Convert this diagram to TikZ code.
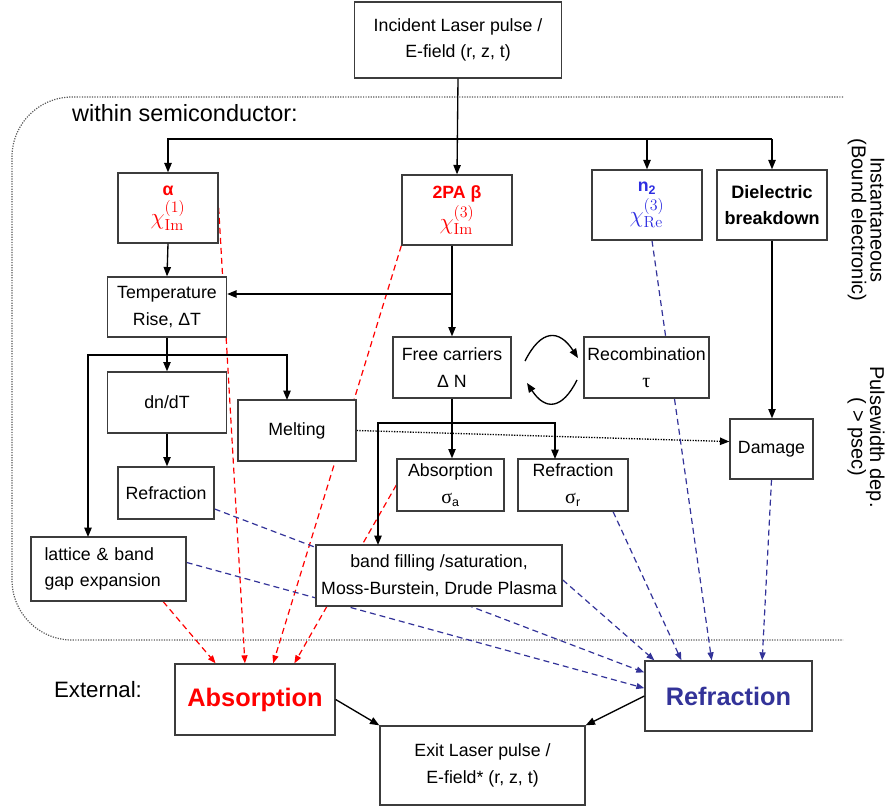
\documentclass[tikz,border=0pt]{standalone}
\usepackage[no-math]{fontspec}
\setmainfont{Liberation Sans}
\newfontfamily\greekserif{Liberation Serif}
\usetikzlibrary{arrows.meta,calc}
\pgfdeclarelayer{bg}
\pgfsetlayers{bg,main}

\definecolor{navy}{RGB}{51,51,153}
\definecolor{brightblue}{RGB}{45,45,225}
\definecolor{boxgray}{RGB}{60,60,60}
\definecolor{regiongray}{RGB}{90,90,90}

\tikzset{every picture/.style={line width=0.75pt}}
\tikzset{
  sz/.style 2 args={minimum width=#1*0.75pt, minimum height=#2*0.75pt},
  blk/.style={draw=boxgray, fill=white, line width=1pt, inner sep=0pt, align=center, font=\fontsize{13.3}{20}\selectfont},
  arr/.style={line width=1pt, -{Triangle[length=7pt,width=5.5pt]}},
  redarr/.style={draw=red, line width=0.9pt, dash pattern=on 4.5pt off 3pt, -{Triangle[length=6pt,width=4.5pt]}},
  bluearr/.style={draw=navy, line width=0.9pt, dash pattern=on 4.5pt off 3pt, -{Triangle[length=6pt,width=4.5pt]}},
}

\begin{document}
\begin{tikzpicture}[x=0.75pt,y=0.75pt,yscale=-1]
\useasboundingbox (0,0) rectangle (891,809);

% Boxes
\node[blk, sz={207}{76}] (inc) at (458,40) {Incident Laser pulse /\\E-field (r, z, t)};
\node[blk, sz={100}{70}, text=red] (alpha) at (168,208) {\textbf{α}\\[2pt]{\fontsize{18}{18}\selectfont$\chi^{(1)}_{\mathrm{Im}}$}};
\node[blk, sz={110}{70}, text=red] (tpa) at (457,210) {\textbf{2PA β}\\[2pt]{\fontsize{18}{18}\selectfont$\chi^{(3)}_{\mathrm{Im}}$}};
\node[blk, sz={110}{70}, text=brightblue] (ntwo) at (647,205) {\textbf{n\textsubscript{2}}\\[2pt]{\fontsize{18}{18}\selectfont$\chi^{(3)}_{\mathrm{Re}}$}};
\node[blk, sz={110}{70}, font=\fontsize{13.5}{20}\selectfont\bfseries] (diel) at (772,205) {Dielectric\\breakdown};
\node[blk, sz={119}{60}] (temp) at (167,307) {Temperature\\Rise, ΔT};
\node[blk, sz={118}{61}] (free) at (452,367.5) {Free carriers\\Δ N};
\node[blk, sz={125}{61}] (recomb) at (646.5,367.5) {Recombination\\{\greekserif\fontsize{15}{20}\selectfont τ}};
\node[blk, sz={119}{61}] (dndt) at (167,402.5) {dn/dT};
\node[blk, sz={118}{61}] (melt) at (297,430.5) {Melting};
\node[blk, sz={96}{52}] (reft) at (166,493) {Refraction};
\node[blk, sz={155}{64}, align=left, text width=128*0.75pt] (lat) at (108.5,569) {lattice \& band\\gap expansion};
\node[blk, sz={107}{52}] (siga) at (450.5,485) {Absorption\\{\greekserif\fontsize{15}{20}\selectfont σ}\textsubscript{a}};
\node[blk, sz={110}{52}] (sigr) at (573,485) {Refraction\\{\greekserif\fontsize{15}{20}\selectfont σ}\textsubscript{r}};
\node[blk, sz={83}{60}] (damage) at (771.5,449) {Damage};
\node[blk, sz={246}{61}] (band) at (439,575.5) {band filling /saturation,\\Moss-Burstein, Drude Plasma};
\node[blk, sz={160}{71}, text=red, font=\fontsize{19}{22}\selectfont\bfseries] (absx) at (255,699.5) {Absorption};
\node[blk, sz={167}{70}, text=navy, font=\fontsize{19}{22}\selectfont\bfseries] (refx) at (728.5,696) {Refraction};
\node[blk, sz={205}{79}] (exit) at (482.5,765.5) {Exit Laser pulse /\\E-field* (r, z, t)};

% Text Node
\node[font=\fontsize{17.6}{20}\selectfont] (within) at (185,113) {within semiconductor:};
\node[font=\fontsize{16.7}{20}\selectfont] (external) at (98,690) {External:};
\node[rotate=-90, align=center, font=\fontsize{15}{14}\selectfont] (inst) at (866,220) {Instantaneous\\(Bound electronic)};
\node[rotate=-90, align=center, font=\fontsize{15}{14}\selectfont] (pulse) at (866,437) {Pulsewidth dep.\\( > psec)};

% Branch points
\coordinate (bus) at (0,139);
\coordinate (tbranch) at (0,294);
\coordinate (tbus) at (0,355);
\coordinate (fbus) at (0,423);
\coordinate (latin) at (88,537);
\coordinate (meltin) at (287,400);
\coordinate (sigrin) at (555,459);
\coordinate (bandin) at (378,545);
\coordinate (c1) at (525,361);
\coordinate (c2) at (578,358);
\coordinate (c3) at (577,380);
\coordinate (c4) at (527,383);

% Solid connectors
\draw[arr] (inc.south) -- (tpa.north);
\draw[arr] (diel.north |- bus) -| (alpha.north);
\draw[arr] (ntwo.north |- bus) -- (ntwo.north);
\draw[arr] (diel.north |- bus) -- (diel.north);
\draw[arr] (alpha.south) -- (temp.north);
\draw[arr] (tpa.south -| free.north) -- (free.north);
\draw[arr] (free.north |- tbranch) -- (temp.east |- tbranch);
\draw[line width=1pt] (temp.south) -- (temp.south |- tbus);
\draw[arr] (temp.south |- tbus) -- (dndt.north);
\draw[arr] (temp.south |- tbus) -| (meltin);
\draw[arr] (temp.south |- tbus) -| (latin);
\draw[arr] (dndt.south) -- (dndt.south |- reft.north);
\draw[arr] (free.south) -- (free.south |- siga.north);
\draw[arr] (free.south |- fbus) -| (sigrin);
\draw[arr] (free.south |- fbus) -| (bandin);
\draw[arr] (diel.south) -- (diel.south |- damage.north);
\draw[arr] (c1) to[bend right=60, looseness=1.7] (c2);
\draw[arr] (c3) to[bend right=60, looseness=1.7] (c4);
\draw[arr] (absx.east) -- (exit.north west);
\draw[arr] (refx.west) -- (exit.north east);

\begin{pgfonlayer}{bg}
%Region border
\draw[regiongray, line width=0.9pt, densely dotted, rounded corners=45] (843,97) -- (12,97) -- (12,640) -- (843,640);
%Dotted link
\draw[arr, densely dotted] (melt.east) -- (damage.170);
%Red dashed links
\draw[redarr] ($(lat.south west)!0.85!(lat.south east)$) -- ($(absx.north west)!0.256!(absx.north east)$);
\draw[redarr] (alpha.east) -- ($(absx.north west)!0.4375!(absx.north east)$);
\draw[redarr] (tpa.south west) -- ($(absx.north west)!0.6125!(absx.north east)$);
\draw[redarr] (siga.west) -- ($(absx.north west)!0.744!(absx.north east)$);
%Blue dashed links
\draw[bluearr] ($(reft.north east)!0.8!(reft.south east)$) -- ($(refx.north west)!0.17!(refx.south west)$);
\draw[bluearr] ($(lat.north east)!0.4!(lat.south east)$) -- ($(refx.north west)!0.39!(refx.south west)$);
\draw[bluearr] ($(band.north east)!0.57!(band.south east)$) -- ($(refx.north west)!0.06!(refx.north east)$);
\draw[bluearr] ($(sigr.south west)!0.86!(sigr.south east)$) -- ($(refx.north west)!0.22!(refx.north east)$);
\draw[bluearr] ($(ntwo.south west)!0.545!(ntwo.south east)$) -- ($(refx.north west)!0.40!(refx.north east)$);
\draw[bluearr] (damage.south) -- ($(refx.north west)!0.70!(refx.north east)$);
\end{pgfonlayer}

\end{tikzpicture}
\end{document}
